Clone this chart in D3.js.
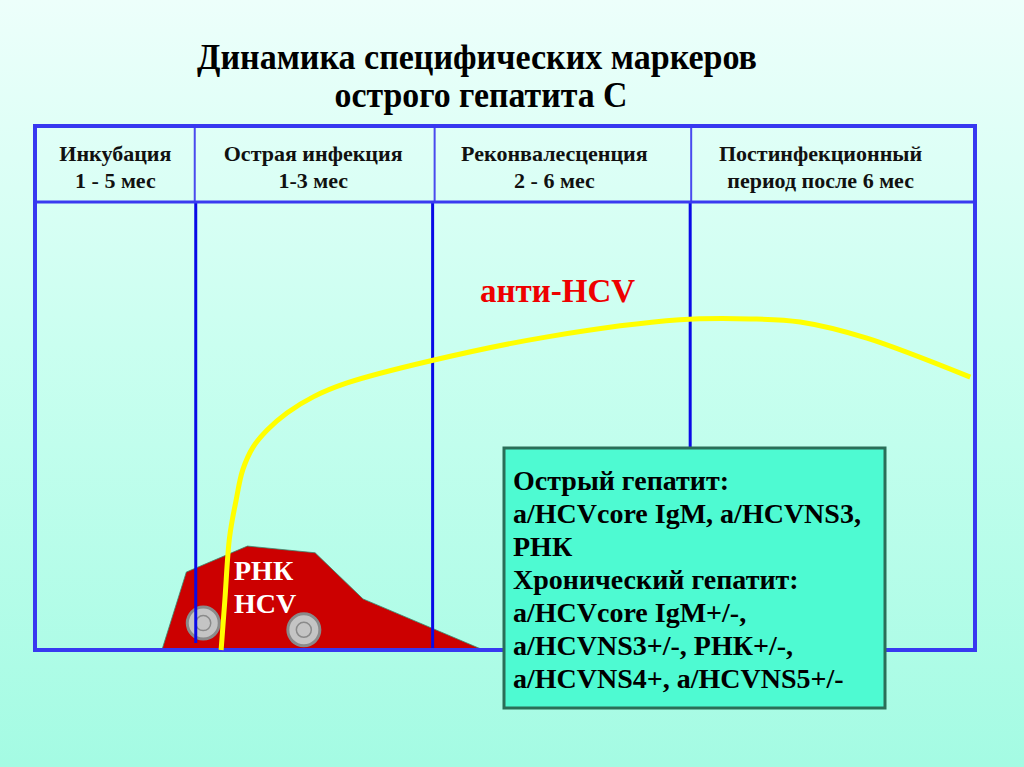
<!DOCTYPE html>
<html><head><meta charset="utf-8">
<script src="https://cdn.jsdelivr.net/npm/d3@7"></script>
<style>html,body{margin:0;padding:0;overflow:hidden;background:#c8fff0}</style>
</head><body>
<script>
// ---- data ----
const titleLines = ["Динамика специфических маркеров", "острого гепатита С"];
const phaseNames = ["Инкубация", "Острая инфекция", "Реконвалесценция", "Постинфекционный"];
const phaseDurations = ["1 - 5 мес", "1-3 мес", "2 - 6 мес", "период после 6 мес"];
const phaseBounds = [0, 17.1, 42.3, 69.7, 100];          // time units (0-100)
const antiHcvT     = [19.8, 20.2, 20.7, 21.4, 22.1, 23.2, 24.7, 26.8, 29.6, 33.2, 42.0, 54.5, 68.6, 76.1, 81.4, 88.5, 99.5];
const antiHcvLevel = [0, 11.2, 25.2, 33.5, 40.2, 45.3, 49.1, 52.9, 56.5, 59.6, 64.5, 69.9, 73.7, 73.9, 73.2, 69.6, 60.9];
const rnaT     = [13.5, 16.1, 22.6, 29.8, 34.9, 47.7];
const rnaLevel = [0, 17.4, 23.2, 21.7, 11.4, 0];
const wheelT     = [17.9, 28.6];
const wheelLevel = [6.0, 4.5];
const antiHcvLabel = "анти-HCV";
const rnaLabel = ["РНК", "HCV"];
const noteLines = ["Острый гепатит:", "а/HCVcore IgM, а/HCVNS3,", "РНК", "Хронический гепатит:",
                   "а/HCVcore IgM+/-,", "а/HCVNS3+/-, РНК+/-,", "а/HCVNS4+, а/HCVNS5+/-"];

// ---- layout ----
const W = 1024, H = 767;
const L = 35, R = 975, TOP = 126, HDR = 202, BOT = 650;
const svg = d3.select("body").append("svg").attr("width", W).attr("height", H)
  .style("font-family", "'Liberation Serif','Times New Roman',serif");

const defs = svg.append("defs");
const g = defs.append("linearGradient").attr("id", "bg").attr("x1", 0).attr("y1", 0).attr("x2", 0).attr("y2", 1);
g.append("stop").attr("offset", "0%").attr("stop-color", "#edfffb");
g.append("stop").attr("offset", "45%").attr("stop-color", "#cafff0");
g.append("stop").attr("offset", "100%").attr("stop-color", "#a4fbe3");
svg.append("rect").attr("width", W).attr("height", H).attr("fill", "url(#bg)");

const x = d3.scaleLinear().domain([0, 100]).range([L, R]);
const y = d3.scaleLinear().domain([0, 100]).range([BOT, HDR]);

// title
const titleBase = [69, 107], titleLen = [560, 293], titleCx = 477;
svg.selectAll(".title").data(titleLines).join("text")
  .attr("x", (d, i) => titleCx - titleLen[i] / 2 + (i ? 4 : 0)).attr("y", (d, i) => titleBase[i])
  .attr("textLength", (d, i) => titleLen[i]).attr("lengthAdjust", "spacingAndGlyphs")
  .attr("font-size", 36).attr("font-weight", "bold").attr("fill", "#000").text(d => d);

// RNA polygon
const rnaPts = rnaT.map((t, i) => [x(t), y(rnaLevel[i])]);
svg.append("path").attr("d", d3.line()(rnaPts) + "Z")
  .attr("fill", "#cc0000").attr("stroke", "#3a8a70").attr("stroke-width", 0.8);

// wheels
const wheels = svg.selectAll(".wheel").data(wheelT).join("g")
  .attr("transform", (d, i) => `translate(${x(d)},${y(wheelLevel[i])})`);
wheels.append("circle").attr("r", 16).attr("fill", "#c4c4c4").attr("stroke", "#8a8a8a").attr("stroke-width", 3);
wheels.append("circle").attr("r", 7.5).attr("fill", "none").attr("stroke", "#8a8a8a").attr("stroke-width", 1.5);

// body vertical dividers
const bodyEnds = [643, BOT, 450];
svg.selectAll(".vdiv").data(phaseBounds.slice(1, -1)).join("line")
  .attr("x1", d => x(d)).attr("x2", d => x(d)).attr("y1", HDR).attr("y2", (d, i) => bodyEnds[i])
  .attr("stroke", "#0a0ae6").attr("stroke-width", 3);

// header dividers
svg.selectAll(".hdiv").data(phaseBounds.slice(1, -1)).join("line")
  .attr("x1", (d, i) => x(d) + [-1, 2, 1][i]).attr("x2", (d, i) => x(d) + [-1, 2, 1][i])
  .attr("y1", TOP).attr("y2", HDR)
  .attr("stroke", "#4a4aee").attr("stroke-width", 2);

// header horizontal line and outer frame
svg.append("line").attr("x1", L).attr("x2", R).attr("y1", HDR).attr("y2", HDR)
  .attr("stroke", "#3a3af0").attr("stroke-width", 3);
svg.append("rect").attr("x", L).attr("y", TOP).attr("width", R - L).attr("height", BOT - TOP)
  .attr("fill", "none").attr("stroke", "#3838f0").attr("stroke-width", 4);

// phase labels
const labelDx = [0, -1, -7, -12];
const hdr = svg.selectAll(".phase").data(phaseNames).join("text")
  .attr("text-anchor", "middle").attr("font-size", 22).attr("font-weight", "bold").attr("fill", "#111");
hdr.append("tspan").attr("x", (d, i) => (x(phaseBounds[i]) + x(phaseBounds[i + 1])) / 2 + labelDx[i]).attr("y", 161).text(d => d);
hdr.append("tspan").attr("x", (d, i) => (x(phaseBounds[i]) + x(phaseBounds[i + 1])) / 2 + labelDx[i]).attr("y", 188)
  .text((d, i) => phaseDurations[i]);

// anti-HCV curve
svg.append("path")
  .attr("d", d3.line().curve(d3.curveCatmullRom.alpha(0.5))(antiHcvT.map((t, i) => [x(t), y(antiHcvLevel[i])])))
  .attr("fill", "none").attr("stroke", "#ffff00").attr("stroke-width", 5);

// labels
svg.append("text").attr("x", 480).attr("y", 302).attr("font-size", 33).attr("font-weight", "bold")
  .attr("fill", "#ee0000").text(antiHcvLabel);
svg.selectAll(".rna").data(rnaLabel).join("text")
  .attr("x", 234).attr("y", (d, i) => 580 + i * 33).attr("font-size", 28).attr("font-weight", "bold")
  .attr("fill", "#fff").text(d => d);

// note box
svg.append("rect").attr("x", 504).attr("y", 448).attr("width", 381).attr("height", 260)
  .attr("fill", "#4efad2").attr("stroke", "#2a6e58").attr("stroke-width", 3);
svg.selectAll(".note").data(noteLines).join("text")
  .attr("x", 513).attr("y", (d, i) => 490 + i * 33).attr("font-size", 28).attr("font-weight", "bold")
  .attr("fill", "#000").text(d => d);
</script>
</body></html>
